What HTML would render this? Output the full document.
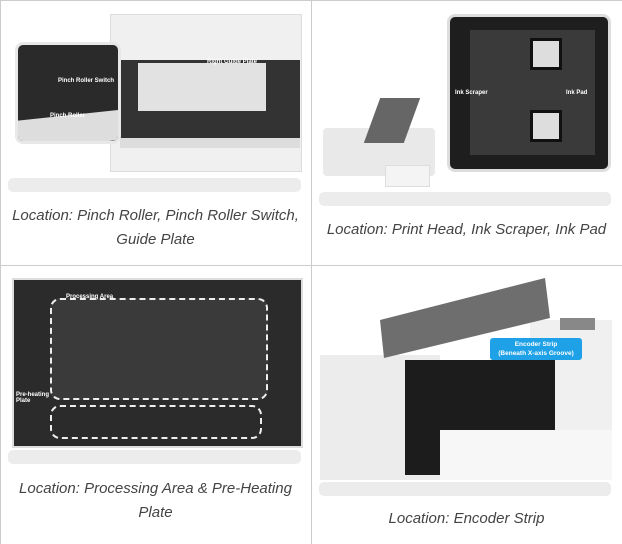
<!DOCTYPE html>
<html><head><style>
body{margin:0;width:622px;height:544px;background:#fff;position:relative;overflow:hidden;font-family:"Liberation Sans",sans-serif}
div{position:absolute;box-sizing:border-box}
.bar{background:#ececec;border-radius:5px;height:14px}
.cap{font-style:italic;color:#444;font-size:15px;text-align:center;line-height:24px}
.lbl{color:#fff;font-size:6px;font-weight:bold}
</style></head><body>
<div style="left:0;top:0;width:622px;height:544px;border-left:1px solid #ccc;border-top:1px solid #ccc"></div>
<div style="left:311px;top:0;width:1px;height:544px;background:#ccc"></div>
<div style="left:0;top:265px;width:622px;height:1px;background:#ccc"></div>

<!-- cell 1 -->
<div style="left:110px;top:14px;width:192px;height:158px;background:#f0f0f0;border:1px solid #ddd"></div>
<div style="left:120px;top:60px;width:180px;height:78px;background:#333"></div>
<div style="left:138px;top:63px;width:128px;height:48px;background:#e2e2e2"></div>
<div style="left:120px;top:138px;width:180px;height:10px;background:#ddd"></div>
<div style="left:15px;top:42px;width:106px;height:102px;background:#2a2a2a;border:3px solid #e8e8e8;border-radius:8px;overflow:hidden"><div style="left:0;top:70px;width:106px;height:30px;background:#ddd;transform:skewY(-6deg)"></div></div>
<div class="lbl" style="left:58px;top:78px">Pinch Roller Switch</div>
<div class="lbl" style="left:50px;top:113px">Pinch Roller</div>
<div class="lbl" style="left:207px;top:59px">Right Guide Plate</div>
<div class="bar" style="left:8px;top:178px;width:293px"></div>
<div class="cap" style="left:0;top:204px;width:311px">Location: Pinch Roller, Pinch Roller Switch,<br>Guide Plate</div>

<!-- cell 2 -->
<div style="left:447px;top:14px;width:164px;height:158px;background:#1e1e1e;border:3px solid #ddd;border-radius:8px"></div>
<div style="left:470px;top:30px;width:125px;height:125px;background:#3a3a3a"></div>
<div style="left:530px;top:38px;width:32px;height:32px;background:#ddd;border:3px solid #111"></div>
<div style="left:530px;top:110px;width:32px;height:32px;background:#ddd;border:3px solid #111"></div>
<div class="lbl" style="left:455px;top:90px">Ink Scraper</div>
<div class="lbl" style="left:566px;top:90px">Ink Pad</div>
<div style="left:323px;top:128px;width:112px;height:48px;background:#e9e9e9;border-radius:4px"></div>
<div style="left:372px;top:98px;width:40px;height:45px;background:#666;transform:skewX(-20deg)"></div>
<div style="left:385px;top:165px;width:45px;height:22px;background:#f4f4f4;border:1px solid #ddd"></div>
<div class="bar" style="left:319px;top:192px;width:292px"></div>
<div class="cap" style="left:311px;top:218px;width:311px">Location: Print Head, Ink Scraper, Ink Pad</div>

<!-- cell 3 -->
<div style="left:12px;top:278px;width:291px;height:170px;background:#2b2b2b;border:2px solid #ddd"></div>
<div style="left:50px;top:298px;width:218px;height:102px;border:2px dashed #eee;border-radius:10px;background:#3a3a3a"></div>
<div style="left:50px;top:405px;width:212px;height:34px;border:2px dashed #eee;border-radius:10px"></div>
<div class="lbl" style="left:66px;top:294px">Processing Area</div>
<div class="lbl" style="left:16px;top:392px">Pre-heating<br>Plate</div>
<div class="bar" style="left:8px;top:450px;width:293px"></div>
<div class="cap" style="left:0;top:477px;width:311px">Location: Processing Area &amp; Pre-Heating<br>Plate</div>

<!-- cell 4 -->
<div style="left:320px;top:355px;width:120px;height:125px;background:#ececec"></div>
<div style="left:530px;top:320px;width:82px;height:110px;background:#f0f0f0"></div>
<div style="left:405px;top:360px;width:150px;height:115px;background:#1c1c1c"></div>
<div style="left:320px;top:278px;width:240px;height:80px;background:#6e6e6e;clip-path:polygon(60px 42px,225px 0,230px 40px,64px 80px)"></div>
<div style="left:560px;top:318px;width:35px;height:12px;background:#888"></div>
<div style="left:490px;top:338px;width:92px;height:22px;background:#1ea1e6;border-radius:3px;color:#fff;font-size:6.5px;font-weight:bold;text-align:center;line-height:9px;padding-top:2px">Encoder Strip<br>(Beneath X-axis Groove)</div>
<div style="left:440px;top:430px;width:172px;height:50px;background:#f7f7f7"></div>
<div class="bar" style="left:319px;top:482px;width:292px"></div>
<div class="cap" style="left:311px;top:507px;width:311px">Location: Encoder Strip</div>
</body></html>
